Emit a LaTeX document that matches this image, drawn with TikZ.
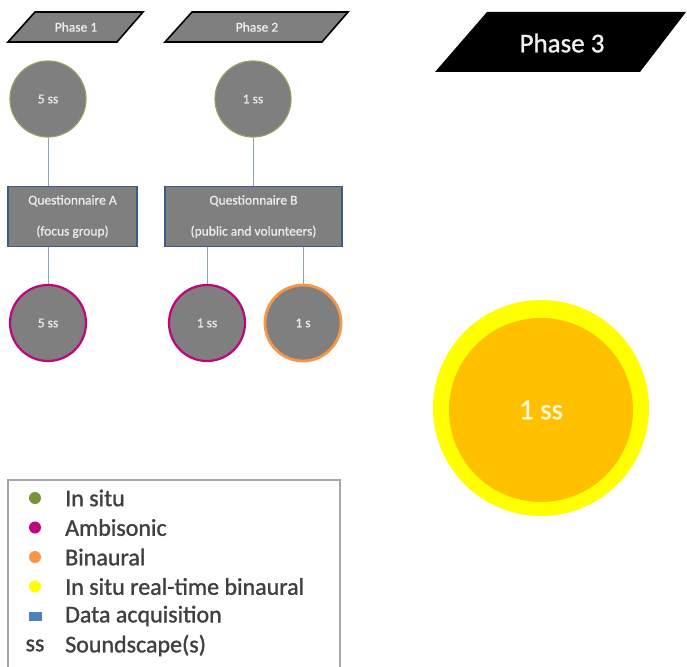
\documentclass[tikz,border=0pt]{standalone}
\usepackage{fontspec}
\setmainfont{Carlito}
\newfontfamily\semib{Carlito}[FakeBold=1.2]
\newfontfamily\smallb{Carlito}[FakeBold=0.8]
\definecolor{PG}{HTML}{7F7F7F}
\definecolor{TW}{HTML}{EDEDED}
\definecolor{InSitu}{HTML}{77933C}
\definecolor{InSituB}{HTML}{8FA35E}
\definecolor{Ambi}{HTML}{C0047F}
\definecolor{Bin}{HTML}{F79646}
\definecolor{YelO}{HTML}{FFFF00}
\definecolor{YelI}{HTML}{FFC000}
\definecolor{RectB}{HTML}{385D8A}
\definecolor{Conn}{HTML}{8EA4C0}
\definecolor{LegB}{HTML}{A6A6A6}
\definecolor{LegT}{HTML}{404040}
\definecolor{DataA}{HTML}{4F81BD}
\begin{document}
\begin{tikzpicture}[x=1pt,y=-1pt,
  smalltext/.style={text=TW, font=\smallb\fontsize{13.5}{15}\selectfont},
  phasebox/.style={fill=PG, draw=black, line width=1.6pt, line join=miter},
  gcirc/.style={circle, fill=PG, minimum size=76pt, inner sep=0pt, smalltext},
  insitu/.style={gcirc, draw=InSituB, line width=1.2pt},
  ambi/.style={gcirc, draw=Ambi, line width=2.2pt},
  binaur/.style={gcirc, draw=Bin, line width=2.8pt},
  qbox/.style={rectangle, fill=PG, draw=RectB, line width=1.4pt, inner sep=0pt, smalltext, align=center},
  conn/.style={draw=Conn, line width=1pt},
  legdot/.style={circle, inner sep=0pt, minimum size=12pt},
  legtext/.style={anchor=west, text=LegT, font=\semib\fontsize{24}{26}\selectfont, inner sep=0pt}
]
\useasboundingbox (0,0) rectangle (687,666);

% Phase headers
\filldraw[phasebox] (35,12) -- (143,12) -- (117,42) -- (8,42) -- cycle;
\node[smalltext] (ph1) at (76,27) {Phase 1};
\filldraw[phasebox] (192,12) -- (348,12) -- (322,42) -- (165,42) -- cycle;
\node[smalltext] (ph2) at (257,27) {Phase 2};
\fill[black] (487,12) -- (686,12) -- (640,72) -- (435,72) -- cycle;
\node[text=white!94!black, font=\semib\fontsize{27}{30}\selectfont] (ph3) at (562,43) {Phase 3};

% Top circles
\node[insitu] (t1) at (48,99) {5 ss};
\node[insitu] (t2) at (253,99) {1 ss};

% Questionnaires
\node[qbox, minimum width=129pt, minimum height=60pt] (qa) at (72.5,216.5) {Questionnaire A\\[16pt](focus group)};
\node[qbox, minimum width=177pt, minimum height=60pt] (qb) at (253.5,216.5) {Questionnaire B\\[16pt](public and volunteers)};

% Bottom circles
\node[ambi] (b1) at (48,323) {5 ss};
\node[ambi] (b2) at (207,323) {1 ss};
\node[binaur] (b3) at (303,323) {1 s};

% Connectors
\draw[conn] (t1) -- (t1 |- qa.north);
\draw[conn] (t2) -- (t2 |- qb.north);
\draw[conn] (qa.south -| b1) -- (b1);
\draw[conn] (qb.south -| b2) -- (b2);
\draw[conn] (qb.south -| b3) -- (b3);

% Phase 3 circle
\node[circle, fill=YelO, minimum size=216pt, inner sep=0pt] (big) at (541,408) {};
\node[circle, fill=YelI, minimum size=184pt, inner sep=0pt, text=white!88!YelI, font=\semib\fontsize{29}{32}\selectfont] (bigin) at (541,410) {1 ss};

% Legend
\draw[LegB, line width=1.5pt] (8,670) -- (8,480) -- (340,480) -- (340,670);
\node[legdot, fill=InSitu] (d1) at (35,498) {};
\node[legtext] (l1) at (65,498) {In situ};
\node[legdot, fill=Ambi] (d2) at (35,527.5) {};
\node[legtext] (l2) at (65,527.5) {Ambisonic};
\node[legdot, fill=Bin] (d3) at (35,557) {};
\node[legtext] (l3) at (65,557) {Binaural};
\node[legdot, fill=YelO] (d4) at (35,586.5) {};
\node[legtext] (l4) at (65,586.5) {In situ real-time binaural};
\node[rectangle, fill=DataA, minimum width=13pt, minimum height=9pt, inner sep=0pt] (d5) at (35,616) {};
\node[legtext] (l5) at (65,616) {Data acquisition};
\node[legtext, anchor=center] (d6) at (35,645.5) {ss};
\node[legtext] (l6) at (65,645.5) {Soundscape(s)};
\end{tikzpicture}
\end{document}
